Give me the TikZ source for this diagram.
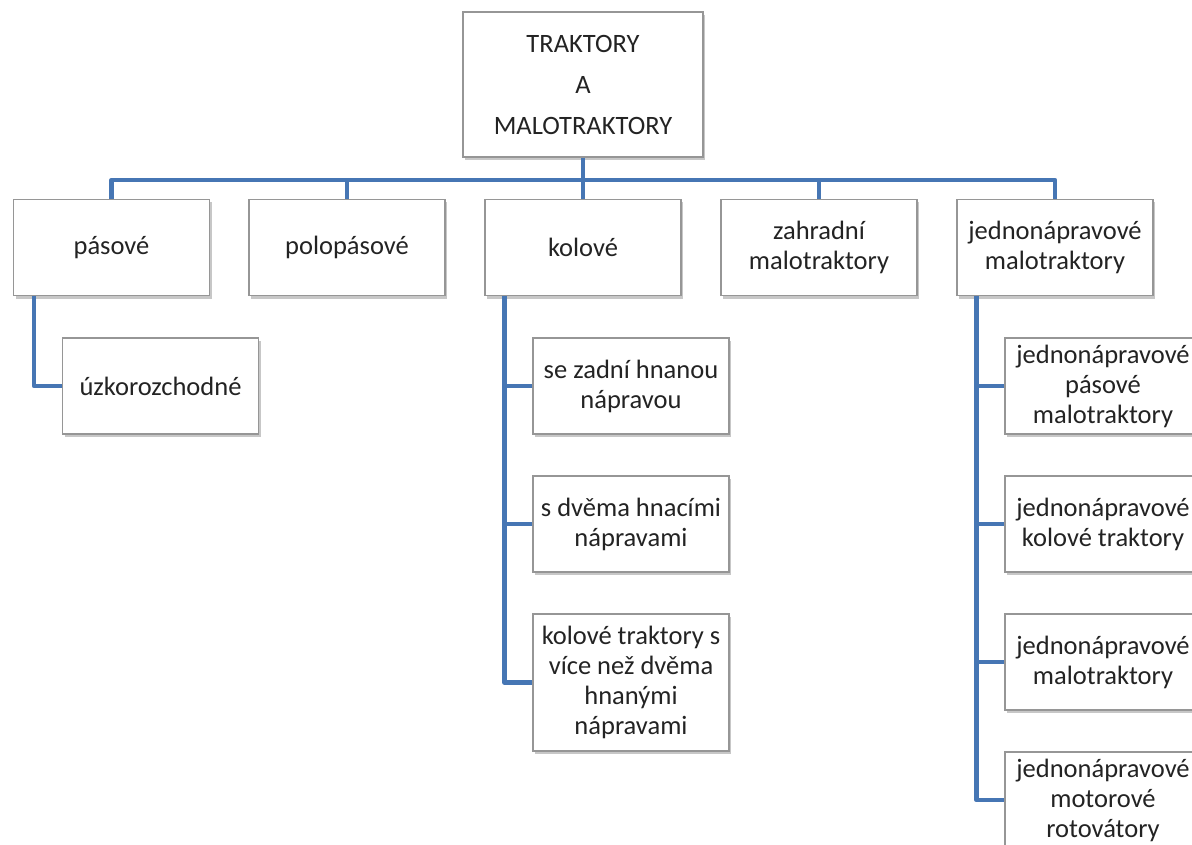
\documentclass[tikz,border=0pt]{standalone}
\usepackage{fontspec}
\setmainfont{Carlito}
\usetikzlibrary{shadows}
\definecolor{linkblue}{RGB}{70,118,180}
\definecolor{boxedge}{RGB}{150,150,150}
\definecolor{txt}{RGB}{35,35,35}
\begin{document}
\begin{tikzpicture}[x=1pt,y=-1pt,
  orgbox/.style={draw=boxedge, line width=1.2pt, fill=white,
    minimum width=196pt, minimum height=96pt, inner sep=0pt,
    align=center, text=txt,
    font=\fontsize{26.5}{30}\selectfont,
    drop shadow={shadow xshift=2pt, shadow yshift=-3pt, fill=black, opacity=0.22}},
  link/.style={draw=linkblue, line width=4.5pt, line join=round}]
  \useasboundingbox[fill=white] (0,0) rectangle (1192,845);
  \clip (0,0) rectangle (1192,845);

  % root
  \node[orgbox, minimum width=240pt, minimum height=145pt] (root) at (583,84.5)
    {TRAKTORY\\[11pt]A\\[11pt]MALOTRAKTORY};

  % first level
  \node[orgbox] (pas) at (111.5,247.5) {pásové};
  \node[orgbox] (polo) at (347,247.5) {polopásové};
  \node[orgbox] (kol) at (583,247.5) {kolové};
  \node[orgbox] (zah) at (819,247.5) {zahradní\\malotraktory};
  \node[orgbox] (jed) at (1055,247.5) {jednonápravové\\malotraktory};

  % second level
  \node[orgbox] (uz) at (160.5,386) {úzkorozchodné};

  \node[orgbox] (k1) at (631,386) {se zadní hnanou\\nápravou};
  \node[orgbox] (k2) at (631,524) {s dvěma hnacími\\nápravami};
  \node[orgbox, minimum height=137pt] (k3) at (631,682.5)
    {kolové traktory s\\více než dvěma\\hnanými\\nápravami};

  \node[orgbox] (j1) at (1103,386) {jednonápravové\\pásové\\malotraktory};
  \node[orgbox] (j2) at (1103,524) {jednonápravové\\kolové traktory};
  \node[orgbox] (j3) at (1103,662) {jednonápravové\\malotraktory};
  \node[orgbox] (j4) at (1103,800) {jednonápravové\\motorové\\rotovátory};

  % bus below the root
  \coordinate (bus) at (583,180);
  \draw[link] (root.south) -- (bus);
  \draw[link] (pas.north) -- (pas.north |- bus) -- (jed.north |- bus) -- (jed.north);
  \draw[link] (polo.north) -- (polo.north |- bus);
  \draw[link] (kol.north) -- (kol.north |- bus);
  \draw[link] (zah.north) -- (zah.north |- bus);

  % branch under pásové
  \draw[link] ([xshift=21pt]pas.south west) |- (uz.west);

  % branch under kolové
  \coordinate (kspine) at ([xshift=20pt]kol.south west);
  \draw[link] (kspine) |- (k3.west);
  \draw[link] (k1.west) -- (k1.west -| kspine);
  \draw[link] (k2.west) -- (k2.west -| kspine);

  % branch under jednonápravové malotraktory
  \coordinate (jspine) at ([xshift=20pt]jed.south west);
  \draw[link] (jspine) |- (j4.west);
  \draw[link] (j1.west) -- (j1.west -| jspine);
  \draw[link] (j2.west) -- (j2.west -| jspine);
  \draw[link] (j3.west) -- (j3.west -| jspine);
\end{tikzpicture}
\end{document}
